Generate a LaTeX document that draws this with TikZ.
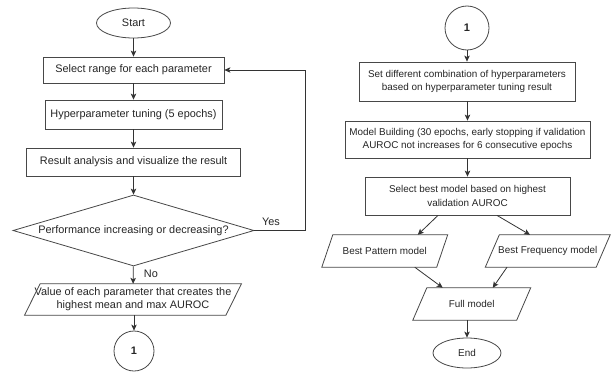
\documentclass[tikz,border=0pt]{standalone}
\usepackage{fontspec}
\setmainfont{Liberation Sans}
\usetikzlibrary{shapes.geometric,arrows.meta}
\newcommand{\paraoutline}[2]{%
  \draw[shapeline] ([xshift=#2/2]#1.north west) -- ([xshift=#2/2]#1.north east)
    -- ([xshift=-#2/2]#1.south east) -- ([xshift=-#2/2]#1.south west) -- cycle;}
\begin{document}
\begin{tikzpicture}[x=1pt,y=-1pt,
  shapeline/.style={draw=black!72, line width=0.8pt},
  ltxt/.style={text=black!85, font=\fontsize{10.9}{13}\selectfont},
  rtxt/.style={text=black!85, font=\fontsize{9.9}{13.5}\selectfont},
  box/.style={shapeline, rectangle, inner sep=0pt, align=center},
  term/.style={shapeline, ellipse, inner sep=0pt},
  conn/.style={shapeline, circle, inner sep=0pt, font=\bfseries\fontsize{11}{13}\selectfont},
  paratext/.style={rectangle, inner sep=0pt, align=center},
  edge/.style={draw=black!80, line width=0.8pt, -{Stealth[length=6pt,width=5.5pt,inset=1.5pt]}}
]
\fill[white] (0,0) rectangle (613,372);
\useasboundingbox (0,0) rectangle (613,372);

% ---------- left column ----------
\node[term, ltxt, minimum width=74pt, minimum height=30pt] (start) at (133.5,23) {Start};
\node[box, ltxt, minimum width=181pt, minimum height=26pt] (b1) at (133.5,70) {Select range for each parameter};
\node[box, ltxt, minimum width=177pt, minimum height=29pt] (b2) at (133.5,114.5) {Hyperparameter tuning (5 epochs)};
\node[box, ltxt, minimum width=214pt, minimum height=28pt] (b3) at (133.5,162) {Result analysis and visualize the result};
\node[shapeline, diamond, aspect=3.4, inner sep=0pt, ltxt, minimum width=241pt, minimum height=71pt] (dia) at (133.5,230.5) {Performance increasing or decreasing?};
\node[paratext, ltxt, minimum width=201pt, minimum height=31pt] (pv) at (133,299.5) {Value of each parameter that creates the\\highest mean and max AUROC};
\paraoutline{pv}{15.5pt}
\node[conn, ltxt, minimum size=40pt] (c1) at (134,351) {\bfseries 1};

\draw[edge] (start) -- (b1);
\draw[edge] (b1) -- (b2);
\draw[edge] (b2) -- (b3);
\draw[edge] (b3) -- (dia);
\draw[edge] (dia) -- node[ltxt, right, xshift=7pt, pos=0.45] {No} (pv);
\draw[edge] (pv.south -| c1.north) -- (c1);
\coordinate (yc1) at (305,230.5);
\coordinate (yc2) at (305,70);
\draw[edge] (dia.east) -- (yc1) -- (yc2) -- (b1.east);
\node[ltxt, anchor=center] (yes) at (271,222) {Yes};

% ---------- right column ----------
\node[conn, rtxt, minimum size=44pt] (c2) at (467,28) {\bfseries\fontsize{11}{13}\selectfont 1};
\node[box, rtxt, minimum width=216pt, minimum height=39pt] (s1) at (467,81.5) {Set different combination of hyperparameters\\based on hyperparameter tuning result};
\node[box, rtxt, minimum width=245pt, minimum height=37pt] (s2) at (467.5,139.5) {Model Building (30 epochs, early stopping if validation\\AUROC not increases for 6 consecutive epochs};
\node[box, rtxt, minimum width=205pt, minimum height=38pt] (s3) at (467.5,196) {Select best model based on highest\\validation AUROC};
\node[paratext, rtxt, minimum width=114.5pt, minimum height=32pt] (pp) at (384.75,251) {Best Pattern model};
\paraoutline{pp}{11pt}
\node[paratext, rtxt, minimum width=110.5pt, minimum height=32pt] (pf) at (547.75,251) {Best Frequency model};
\paraoutline{pf}{14pt}
\node[paratext, rtxt, minimum width=103.5pt, minimum height=32pt] (fm) at (471.75,304) {Full model};
\paraoutline{fm}{14pt}
\node[term, rtxt, minimum width=68pt, minimum height=30pt] (end) at (467,353) {End};

\draw[edge] (c2) -- (s1);
\draw[edge] (s1.south -| s2.north) -- (s2);
\draw[edge] (s2) -- (s3);
\draw[edge] ([xshift=-29.5pt]s3.south) -- ([xshift=33pt]pp.north);
\draw[edge] ([xshift=29.5pt]s3.south) -- ([xshift=-17.75pt]pf.north);
\draw[edge] ([xshift=30pt]pp.south) -- ([xshift=-29pt]fm.north);
\draw[edge] ([xshift=-40.75pt]pf.south) -- ([xshift=21pt]fm.north);
\draw[edge] (fm.south -| end.north) -- (end);
\end{tikzpicture}
\end{document}
